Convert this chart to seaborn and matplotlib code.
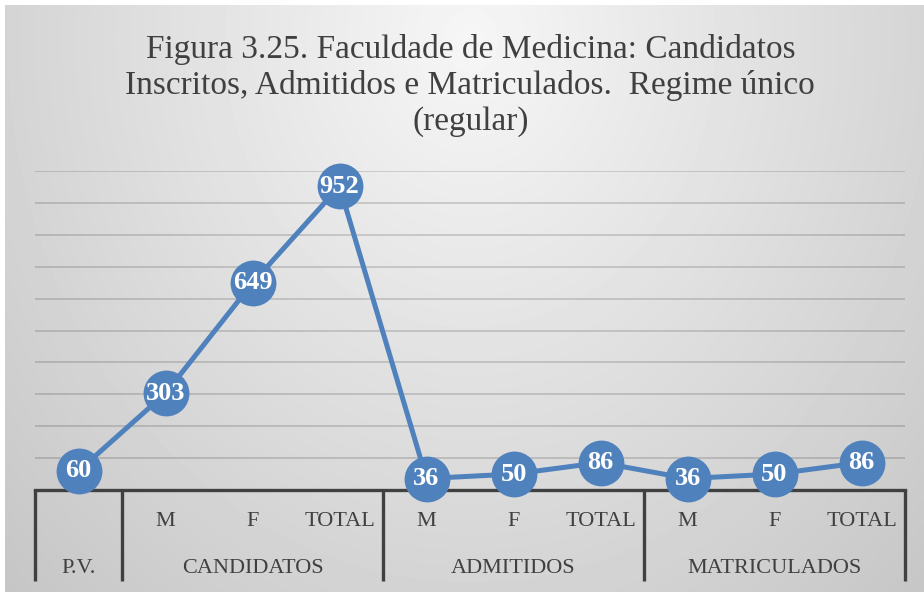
import numpy as np
import pandas as pd
import seaborn as sns
import matplotlib.pyplot as plt
import matplotlib.transforms as mtransforms

# data
groups = ["P.V.", "CANDIDATOS", "ADMITIDOS", "MATRICULADOS"]
group_sizes = [1, 3, 3, 3]
sub_labels = ["", "M", "F", "TOTAL", "M", "F", "TOTAL", "M", "F", "TOTAL"]
values = [60, 303, 649, 952, 36, 50, 86, 36, 50, 86]

title = ("Figura 3.25. Faculdade de Medicina: Candidatos\n"
         "Inscritos, Admitidos e Matriculados.  Regime único\n"
         "(regular)")

sns.set_theme(style="white")
plt.rcParams['font.family'] = ['Liberation Serif', 'DejaVu Serif']

df = pd.DataFrame({"pos": np.arange(len(values)), "valor": values})

fig = plt.figure(figsize=(9.24, 5.92), dpi=100)
fig.patch.set_facecolor("white")

# gradient background (radial, light at top centre)
bg = fig.add_axes([5 / 924, 0, 919 / 924, 587 / 592])
W, H = 919, 587
xx, yy = np.meshgrid(np.arange(W) + 5, np.arange(H) + 5)
r = np.sqrt(((xx - 470) / 470.0) ** 2 + ((yy - 40) / 550.0) ** 2)
grad = np.clip(0.965 - 0.135 * r, 0, 1)
bg.imshow(grad, cmap="gray", vmin=0, vmax=1, aspect="auto")
bg.axis("off")

ax = fig.add_axes([35 / 924, (592 - 490) / 592, 870 / 924, 319 / 592])
ax.patch.set_alpha(0)

sns.lineplot(data=df, x="pos", y="valor", ax=ax, color="#4f81bd",
             linewidth=3.6, marker="o", markersize=33,
             markeredgewidth=0, clip_on=False, zorder=3)

for x, v in zip(df["pos"], df["valor"]):
    ax.text(x, v, str(v), ha="center", va="center", color="white",
            fontsize=19, fontweight="bold", zorder=4)

ax.set_xlim(-0.5, len(values) - 0.5)
ax.set_ylim(0, 1000)
ax.set_yticks(np.arange(100, 1001, 100))
ax.yaxis.grid(True, color="#000000", alpha=0.17, linewidth=1.2)
ax.set_axisbelow(True)
ax.set_yticklabels([])
ax.tick_params(left=False, bottom=False)
ax.set_xticks([])
ax.set_xlabel("")
ax.set_ylabel("")
for s in ["left", "right", "top"]:
    ax.spines[s].set_visible(False)
ax.spines["bottom"].set_color("#404040")
ax.spines["bottom"].set_linewidth(2.4)

# two-level category table under the axis
trans = mtransforms.blended_transform_factory(ax.transData, ax.transAxes)
y_bottom, y_row1, y_row2 = -0.285, -0.10, -0.245
bounds = np.concatenate([[0], np.cumsum(group_sizes)]) - 0.5
for b in bounds:
    ax.plot([b, b], [0, y_bottom], transform=trans, color="#404040",
            linewidth=2.4, clip_on=False, solid_capstyle="butt")
for i, lab in enumerate(sub_labels):
    ax.text(i, y_row1, lab, transform=trans, ha="center", va="center",
            fontsize=16, color="#404040")
for g, a, b in zip(groups, bounds[:-1], bounds[1:]):
    ax.text((a + b) / 2, y_row2, g, transform=trans, ha="center",
            va="center", fontsize=16, color="#404040")

fig.text(0.509, 0.943, title, ha="center", va="top", fontsize=24,
         color="#404040", linespacing=1.22)

fig.savefig("out.png", dpi=100)
